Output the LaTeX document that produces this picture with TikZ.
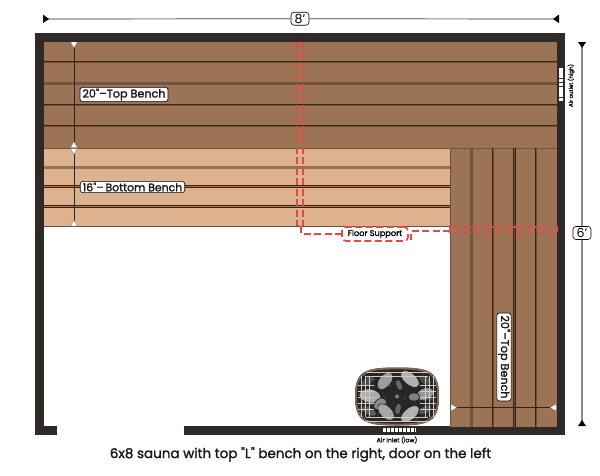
\documentclass[tikz,border=0pt]{standalone}
\usepackage{fontspec}
\setmainfont{Poppins}
\newfontfamily\medf[FakeBold=1.6]{Poppins}
\usetikzlibrary{arrows.meta}
\definecolor{wall}{HTML}{2F2A27}
\definecolor{top}{HTML}{9D7355}
\definecolor{low}{HTML}{DEB28F}
\definecolor{seam}{HTML}{3B2616}
\definecolor{wideseam}{HTML}{6F5440}
\definecolor{dimgrey}{HTML}{8A8A8A}
\definecolor{supred}{HTML}{E04A48}
\definecolor{cage}{HTML}{7F6757}
\tikzset{
  seamdouble/.style={seam,line width=0.8pt,double=top!55!seam,double distance=0.5pt},
  seamdoublelow/.style={seam,line width=0.8pt,double=low!60!seam,double distance=0.5pt},
  seamwide/.style={wideseam,line width=2.4pt},
  dimline/.style={dimgrey,line width=1.2pt},
  benchdim/.style={black!85,line width=0.7pt},
  wtri/.style={fill=white,draw=black!60,line width=0.3pt},
  ktri/.style={fill=black},
  tag/.style={draw=black,fill=white,rounded corners=2.5pt,line width=0.6pt,inner xsep=2.5pt,inner ysep=1.2pt,font=\fontsize{11.2}{13}\medf,text=black!90},
  dimtag/.style={draw=black,fill=white,rounded corners=3pt,line width=0.6pt,inner sep=0pt,minimum width=18pt,minimum height=13pt,font=\fontsize{12.5}{14}\selectfont},
  supline/.style={supred,line width=1.5pt,dash pattern=on 7pt off 3.5pt},
  stone/.style={line width=0.6pt,draw=black!90},
  wire/.style={cage!35!white,line width=0.55pt},
}
\begin{document}
\begin{tikzpicture}[x=1pt,y=-1pt]
\useasboundingbox (0,0) rectangle (600,475);
% walls
\fill[wall] (35,33) rectangle (565,434.5);
\fill[white] (44,41.5) rectangle (557,426);
\fill[white] (56.5,425) rectangle (184,436);
% benches
\fill[low] (44,148) rectangle (450,226);
\fill[top] (44,41.5) rectangle (557,148);
\fill[top] (450,148) rectangle (557,426.5);
\draw[seam!80,line width=0.5pt] (44,226) -- (450,226);
\draw[seam!80,line width=0.6pt] (450,148) -- (450,426.5);
\draw[wideseam,line width=1pt] (44,148) -- (557,148);
% seams horizontal
\draw[seamdouble] (44,62) -- (557,62);
\draw[seamwide] (44,83.5) -- (557,83.5);
\draw[seamdouble] (44,105) -- (557,105);
\draw[seamdouble] (44,126) -- (557,126);
\draw[seamwide,color=low!55!seam] (44,167.5) -- (450,167.5);
\draw[seamdoublelow] (44,186.5) -- (450,186.5);
\draw[seamdoublelow] (44,206.5) -- (450,206.5);
% seams vertical
\draw[seamwide] (471.5,148) -- (471.5,426.5);
\draw[seamdouble] (493,148) -- (493,426.5);
\draw[seamdouble] (514.5,148) -- (514.5,426.5);
\draw[seamdouble] (536,148) -- (536,426.5);
% floor supports
\draw[supline,line width=1.1pt] (297,41.5) -- (297,225.5) -- (303,225.5);
\draw[supline,line width=1.1pt] (303,41.5) -- (303,225.5);
\draw[supline] (301,226) -- (301,234) -- (342,234);
\draw[supline] (450,231) -- (411,231) -- (411,240);
\draw[supline] (450,227) -- (557,227) -- (557,233) -- (450,233) -- cycle;
% vertical bench dims
\coordinate (t1) at (74,42);
\coordinate (t4) at (74,226);
\draw[benchdim] (t1) -- (t4);
\filldraw[wtri] (70.5,42) -- (77.5,42) -- (74,48) -- cycle;
\filldraw[wtri] (70.5,147.5) -- (77.5,147.5) -- (74,141.5) -- cycle;
\filldraw[wtri] (70.5,148.5) -- (77.5,148.5) -- (74,154.5) -- cycle;
\filldraw[wtri] (70.5,226) -- (77.5,226) -- (74,220) -- cycle;
\coordinate (h1) at (451,407.5);
\coordinate (h2) at (556,407.5);
\draw[benchdim] (h1) -- (h2);
\filldraw[wtri] (451,404) -- (451,411) -- (457,407.5) -- cycle;
\filldraw[wtri] (556,404) -- (556,411) -- (550,407.5) -- cycle;
% labels
\node[tag] (topA) at (124,94.5) {20\textquotedbl–Top Bench};
\node[tag,font=\fontsize{10.9}{13}\medf] (lowA) at (132.5,187) {16\textquotedbl–\,Bottom Bench};
\node[tag,rotate=-90] (topB) at (504,357) {20\textquotedbl–Top Bench};
\node[draw=supred,fill=white,rounded corners=4pt,line width=1.7pt,dash pattern=on 7pt off 3.5pt,minimum width=66pt,minimum height=14pt,inner sep=0pt,font=\fontsize{8.2}{10}\medf] (fs) at (375,234) {Floor Support};
% overall dimensions
\node[dimtag] (eight) at (300,18.7) {8'};
\coordinate (eL) at (43,19);
\coordinate (eR) at (559,19);
\draw[dimline] (eL) -- (eight) (eight) -- (eR);
\fill[ktri] (43,14.5) -- (43,23) -- (49,19) -- cycle;
\fill[ktri] (559,14.5) -- (559,23) -- (553,19) -- cycle;
\node[dimtag] (six) at (582,233) {6'};
\coordinate (sT) at (582,42);
\coordinate (sB) at (582,426);
\draw[dimline] (sT) -- (six) (six) -- (sB);
\fill[ktri] (578,42) -- (586,42) -- (582,48) -- cycle;
\fill[ktri] (578,426) -- (586,426) -- (582,420) -- cycle;
% vents
\draw[white,line width=4.4pt,dash pattern=on 3.2pt off 0.6pt] (560.7,67.5) -- (560.7,101);
\node[rotate=90,font=\fontsize{5.5}{6}\medf] (outlet) at (571,85.5) {Air outlet (high)};
\draw[white,line width=3.6pt,dash pattern=on 3.2pt off 0.8pt] (383,430) -- (416,430);
\node[font=\fontsize{6.2}{7}\medf] (inlet) at (397,440) {Air Inlet (low)};
% heater
\begin{scope}
\fill[black!85] (355,396) .. controls (355,371) and (365,367.5) .. (397,367.5) .. controls (429,367.5) and (439,371) .. (439,396) .. controls (439,422) and (429,425.5) .. (397,425.5) .. controls (365,425.5) and (355,422) .. (355,396) -- cycle;
\clip (357,396) .. controls (357,372) and (366,369.5) .. (397,369.5) .. controls (428,369.5) and (437,372) .. (437,396) .. controls (437,420) and (428,423.5) .. (397,423.5) .. controls (366,423.5) and (357,420) .. (357,396) -- cycle;
\foreach \x/\y/\a/\r/\s/\c in {
  370/396/-10/11/7/32, 368/381/30/7/4/70, 369/411/-30/8/4/65, 380/404/40/7/5/45,
  385/381/50/10/6/38, 410/379/-40/11/6/30, 399/385/-70/6/3/60,
  386/412/-45/10/6/35, 410/414/40/11/6/30, 398/409/80/6/3/60,
  425/394/20/9/6/42, 425/380/-30/7/4/70, 425/410/30/7/4/68, 414/397/0/6/4/50}{
  \fill[black!\c,stone,shift={(\x,\y)},rotate=\a] (0,0) ellipse (\r pt and \s pt);
}
\pgfmathsetseed{4242}
\foreach \i in {1,...,110}{
  \pgfmathsetmacro{\px}{358+78*rnd}
  \pgfmathsetmacro{\py}{371+51*rnd}
  \pgfmathsetmacro{\pc}{20+60*rnd}
  \fill[black!\pc,opacity=0.35] (\px,\py) circle (0.8pt);
}
\fill[black!85] (397,396.5) ellipse (6pt and 4.5pt);
\fill[black!50] (397,396.5) circle (2pt);
\end{scope}
\draw[cage,line width=1.8pt] (356,396) .. controls (356,371.5) and (365.5,368.5) .. (397,368.5) .. controls (428.5,368.5) and (438,371.5) .. (438,396) .. controls (438,421) and (428.5,424.5) .. (397,424.5) .. controls (365.5,424.5) and (356,421) .. (356,396) -- cycle;
\foreach \y in {372,376,417,421}{\draw[wire] (366,\y) -- (428,\y);}
\foreach \x in {361,365,369,425,429,433}{\draw[wire] (\x,376) -- (\x,417);}
\foreach \y in {385,391,397,403,409}{\draw[wire,line width=0.35pt] (358,\y) -- (374,\y) (420,\y) -- (436,\y);}
% caption
\node[font=\fontsize{13.5}{16}\medf,text=black!90] (cap) at (300.5,454.5) {6x8 sauna with top \textquotedbl L\textquotedbl{} bench on the right, door on the left};
\end{tikzpicture}
\end{document}
